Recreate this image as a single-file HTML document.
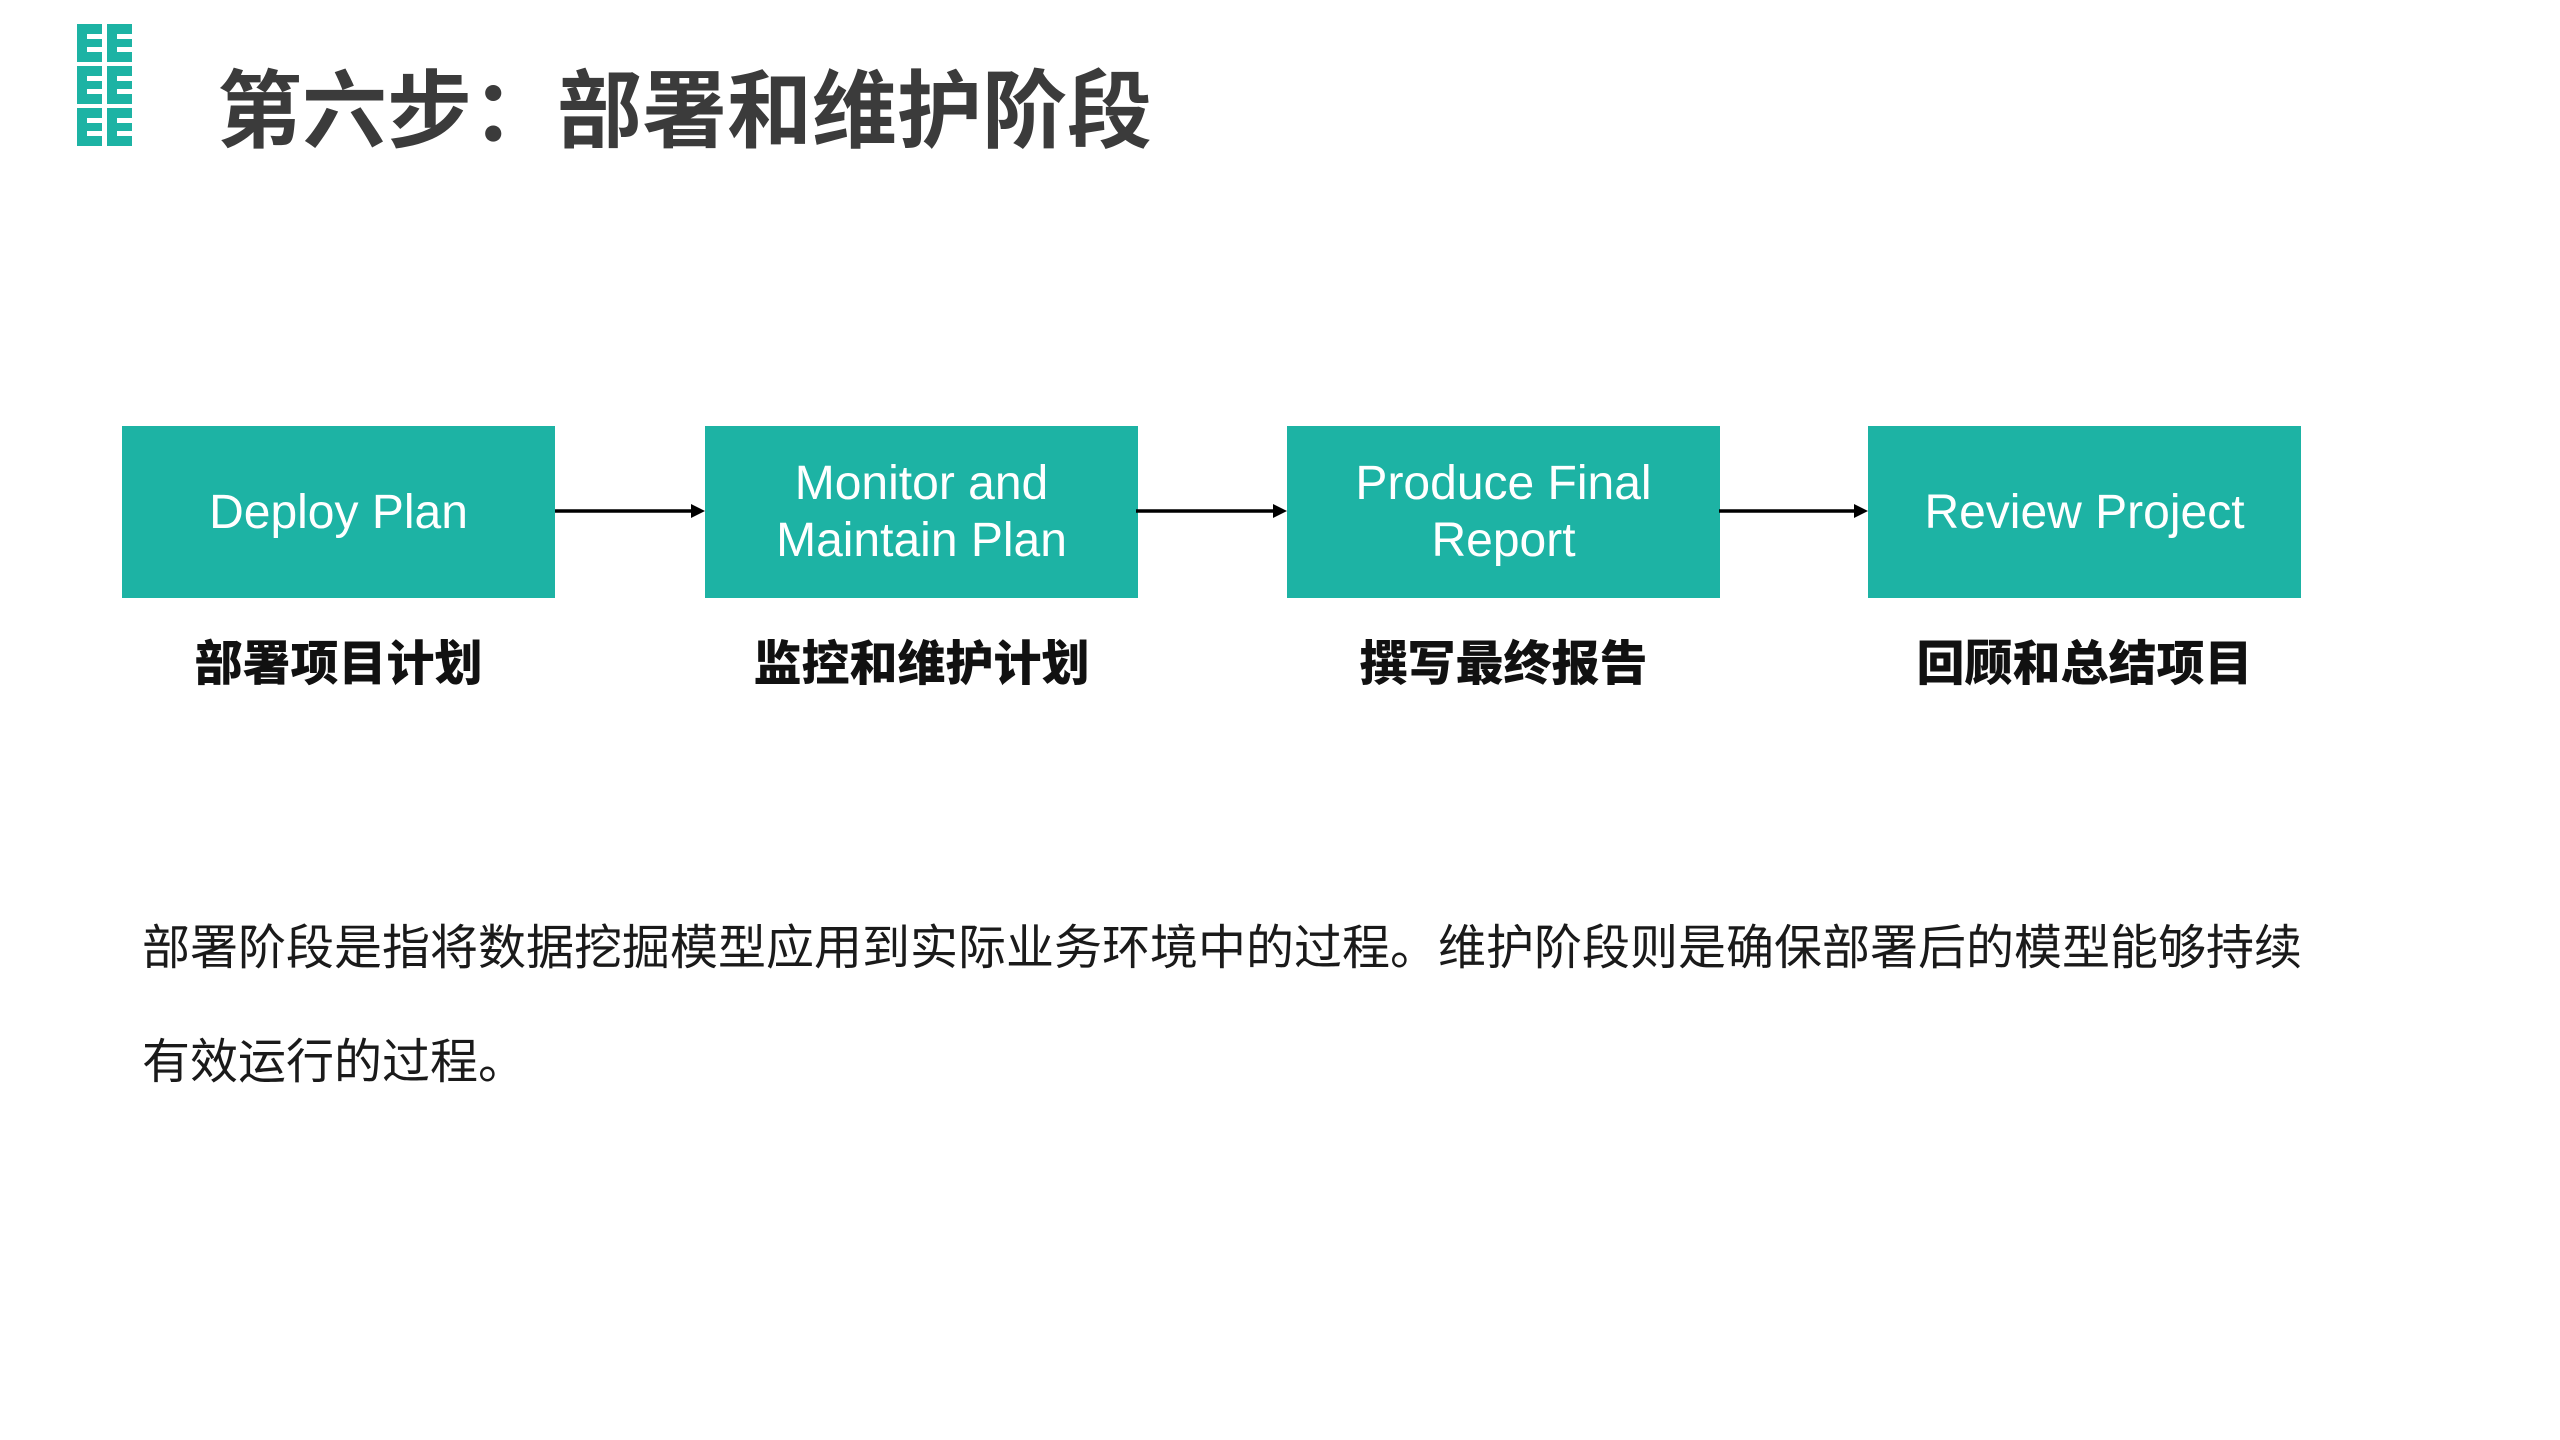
<!DOCTYPE html>
<html><head><meta charset="utf-8">
<style>
html,body{margin:0;padding:0;}
body{width:2560px;height:1440px;background:#fff;position:relative;overflow:hidden;font-family:"Liberation Sans","Noto Sans CJK SC",sans-serif;}
.logo{position:absolute;left:77px;top:24px;width:56px;height:122px;}
.title{position:absolute;left:217px;top:50px;font-size:85px;font-weight:bold;color:#3b3b3b;line-height:110px;white-space:nowrap;font-family:"Noto Sans CJK SC",sans-serif;}
.box{position:absolute;top:426px;width:433px;height:172px;background:#1db3a4;color:#fff;font-size:48px;line-height:57px;display:flex;align-items:center;justify-content:center;text-align:center;font-family:"Liberation Sans",sans-serif;}
.lbl{position:absolute;top:626px;width:433px;text-align:center;font-size:48px;font-weight:900;color:#111;line-height:66px;font-family:"Noto Sans CJK SC",sans-serif;}
.para{position:absolute;left:142px;top:886px;font-size:48px;line-height:114px;color:#1a1a1a;white-space:nowrap;font-family:"Noto Sans CJK SC",sans-serif;}
svg.arr{position:absolute;left:0;top:0;}
</style></head><body>
<svg class="logo" viewBox="0 0 56 122">
<g fill="#1db3a4">
<rect x="0" y="0" width="25" height="38"/><rect x="30" y="0" width="25" height="38"/>
<rect x="0" y="42" width="25" height="38"/><rect x="30" y="42" width="25" height="38"/>
<rect x="0" y="84" width="25" height="38"/><rect x="30" y="84" width="25" height="38"/>
</g>
<g fill="#fff">
<rect x="10" y="10" width="15" height="5"/><rect x="10" y="23" width="15" height="5"/>
<rect x="40" y="10" width="15" height="5"/><rect x="40" y="23" width="15" height="5"/>
<rect x="10" y="52" width="15" height="5"/><rect x="10" y="65" width="15" height="5"/>
<rect x="40" y="52" width="15" height="5"/><rect x="40" y="65" width="15" height="5"/>
<rect x="10" y="94" width="15" height="5"/><rect x="10" y="107" width="15" height="5"/>
<rect x="40" y="94" width="15" height="5"/><rect x="40" y="107" width="15" height="5"/>
</g>
</svg>
<div class="title">第六步：部署和维护阶段</div>

<div class="box" style="left:122px">Deploy Plan</div>
<div class="box" style="left:705px">Monitor and<br>Maintain Plan</div>
<div class="box" style="left:1287px">Produce Final<br>Report</div>
<div class="box" style="left:1868px">Review Project</div>

<svg class="arr" width="2560" height="1440">
<g stroke="#000" stroke-width="3.5">
<line x1="555" y1="511" x2="694" y2="511"/>
<line x1="1136" y1="511" x2="1276" y2="511"/>
<line x1="1719" y1="511" x2="1857" y2="511"/>
</g>
<g fill="#000">
<polygon points="705,511 691,504 691,518"/>
<polygon points="1287,511 1273,504 1273,518"/>
<polygon points="1868,511 1854,504 1854,518"/>
</g>
</svg>

<div class="lbl" style="left:122px">部署项目计划</div>
<div class="lbl" style="left:705px">监控和维护计划</div>
<div class="lbl" style="left:1287px">撰写最终报告</div>
<div class="lbl" style="left:1868px">回顾和总结项目</div>

<div class="para">部署阶段是指将数据挖掘模型应用到实际业务环境中的过程。维护阶段则是确保部署后的模型能够持续<br>有效运行的过程。</div>
</body></html>
